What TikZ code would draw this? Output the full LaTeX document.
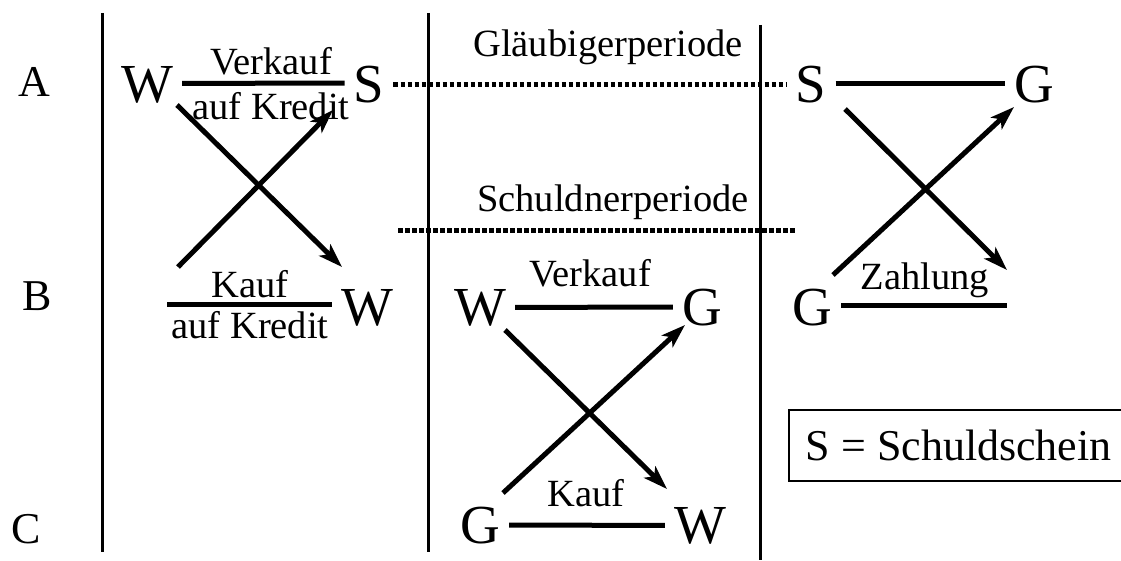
\documentclass[tikz,border=0pt]{standalone}
\usepackage{fontspec}
\setmainfont{Liberation Serif}
\usetikzlibrary{arrows.meta}

\begin{document}
\begin{tikzpicture}[x=1pt, y=-1pt, >={Stealth[length=24pt,width=16pt,inset=6pt]},
    letter/.style={inner xsep=9pt, inner ysep=0pt, anchor=base, font=\fontsize{55}{55}\selectfont},
    rowlbl/.style={inner sep=0pt, anchor=base, font=\fontsize{44}{44}\selectfont},
    lbl/.style={inner sep=0pt, anchor=base, font=\fontsize{38.5}{38.5}\selectfont},
    conn/.style={line width=5pt},
    arrow/.style={->, line width=5pt},
    dotline/.style={line width=5pt, dash pattern=on 4.5pt off 2.5pt},
    divider/.style={line width=3pt}]

    \useasboundingbox (0,0) rectangle (1121,561);

    % Row labels
    \node[rowlbl] (rowA) at (34,97) {A};
    \node[rowlbl] (rowB) at (37,310) {B};
    \node[rowlbl] (rowC) at (26,543) {C};

    % Dividers
    \draw[divider] (102,13) -- (102,552);
    \draw[divider] (428,13) -- (428,552);
    \draw[divider] (760,25) -- (760,560);

    % Left column: Kreditgeschaeft
    \node[letter] (wAL) at (147,103) {W};
    \node[letter] (sAL) at (369,103) {S};
    \node[letter] (wBL) at (367,325) {W};
    \coordinate (kaufL) at (167,304);

    \draw[conn] ([yshift=2pt]wAL.east) -- ([yshift=2pt]sAL.west);
    \node[lbl] (verkaufL) at (271,75) {Verkauf};
    \node[lbl] (kreditAL) at (271,120) {auf Kredit};
    \draw[conn] (kaufL) -- (kaufL -| wBL.west);
    \node[lbl] (kaufBL) at (250,297) {Kauf};
    \node[lbl] (kreditBL) at (250,338) {auf Kredit};

    \coordinate (xl1s) at (177,105);
    \coordinate (xl1e) at (342,267);
    \coordinate (xl2s) at (178,267);
    \coordinate (xl2e) at (333,110);
    \draw[arrow] (xl1s) -- (xl1e);
    \draw[arrow] (xl2s) -- (xl2e);

    % Middle column: periods and Barkauf
    \node[lbl] (glaeub) at (608,57) {Gläubigerperiode};
    \node[lbl] (schuld) at (613,212) {Schuldnerperiode};
    \coordinate (schS) at (398,231);
    \coordinate (schE) at (797,231);
    \draw[dotline] (schS) -- (schE);

    \node[letter] (wBM) at (480,325) {W};
    \node[letter] (gBM) at (702,325) {G};
    \node[letter] (gCM) at (480,543) {G};
    \node[letter] (wCM) at (700,543) {W};

    \draw[conn] (wBM.east) -- (gBM.west);
    \node[lbl] (verkaufM) at (590,287) {Verkauf};
    \draw[conn] (gCM.east) -- (wCM.west);
    \node[lbl] (kaufM) at (586,506) {Kauf};

    \coordinate (xm1s) at (505,330);
    \coordinate (xm1e) at (667,489);
    \coordinate (xm2s) at (503,493);
    \coordinate (xm2e) at (685,325);
    \draw[arrow] (xm1s) -- (xm1e);
    \draw[arrow] (xm2s) -- (xm2e);

    % Right column: Einloesung
    \node[letter] (sAR) at (811,103) {S};
    \node[letter] (gAR) at (1034,103) {G};
    \node[letter] (gBR) at (812,325) {G};
    \coordinate (zahlE) at (1007,304);

    \draw[dotline] ([yshift=1pt]sAL.east) -- ([yshift=1pt]sAR.west);
    \draw[conn] ([yshift=2pt]sAR.east) -- ([yshift=2pt]gAR.west);
    \draw[conn] ([yshift=2pt]gBR.east) -- ([yshift=2pt]gBR.east -| zahlE);
    \node[lbl] (zahlung) at (925,290) {Zahlung};

    \coordinate (xr1s) at (845,109);
    \coordinate (xr1e) at (1007,270);
    \coordinate (xr2s) at (833,275);
    \coordinate (xr2e) at (1014,107);
    \draw[arrow] (xr1s) -- (xr1e);
    \draw[arrow] (xr2s) -- (xr2e);

    % Legend
    \node[draw, line width=1.5pt, anchor=north west, minimum width=340pt, minimum height=71pt,
          font=\fontsize{44}{44}\selectfont] (legend) at (788,409) {\raisebox{-3pt}{S = Schuldschein}};

\end{tikzpicture}
\end{document}
